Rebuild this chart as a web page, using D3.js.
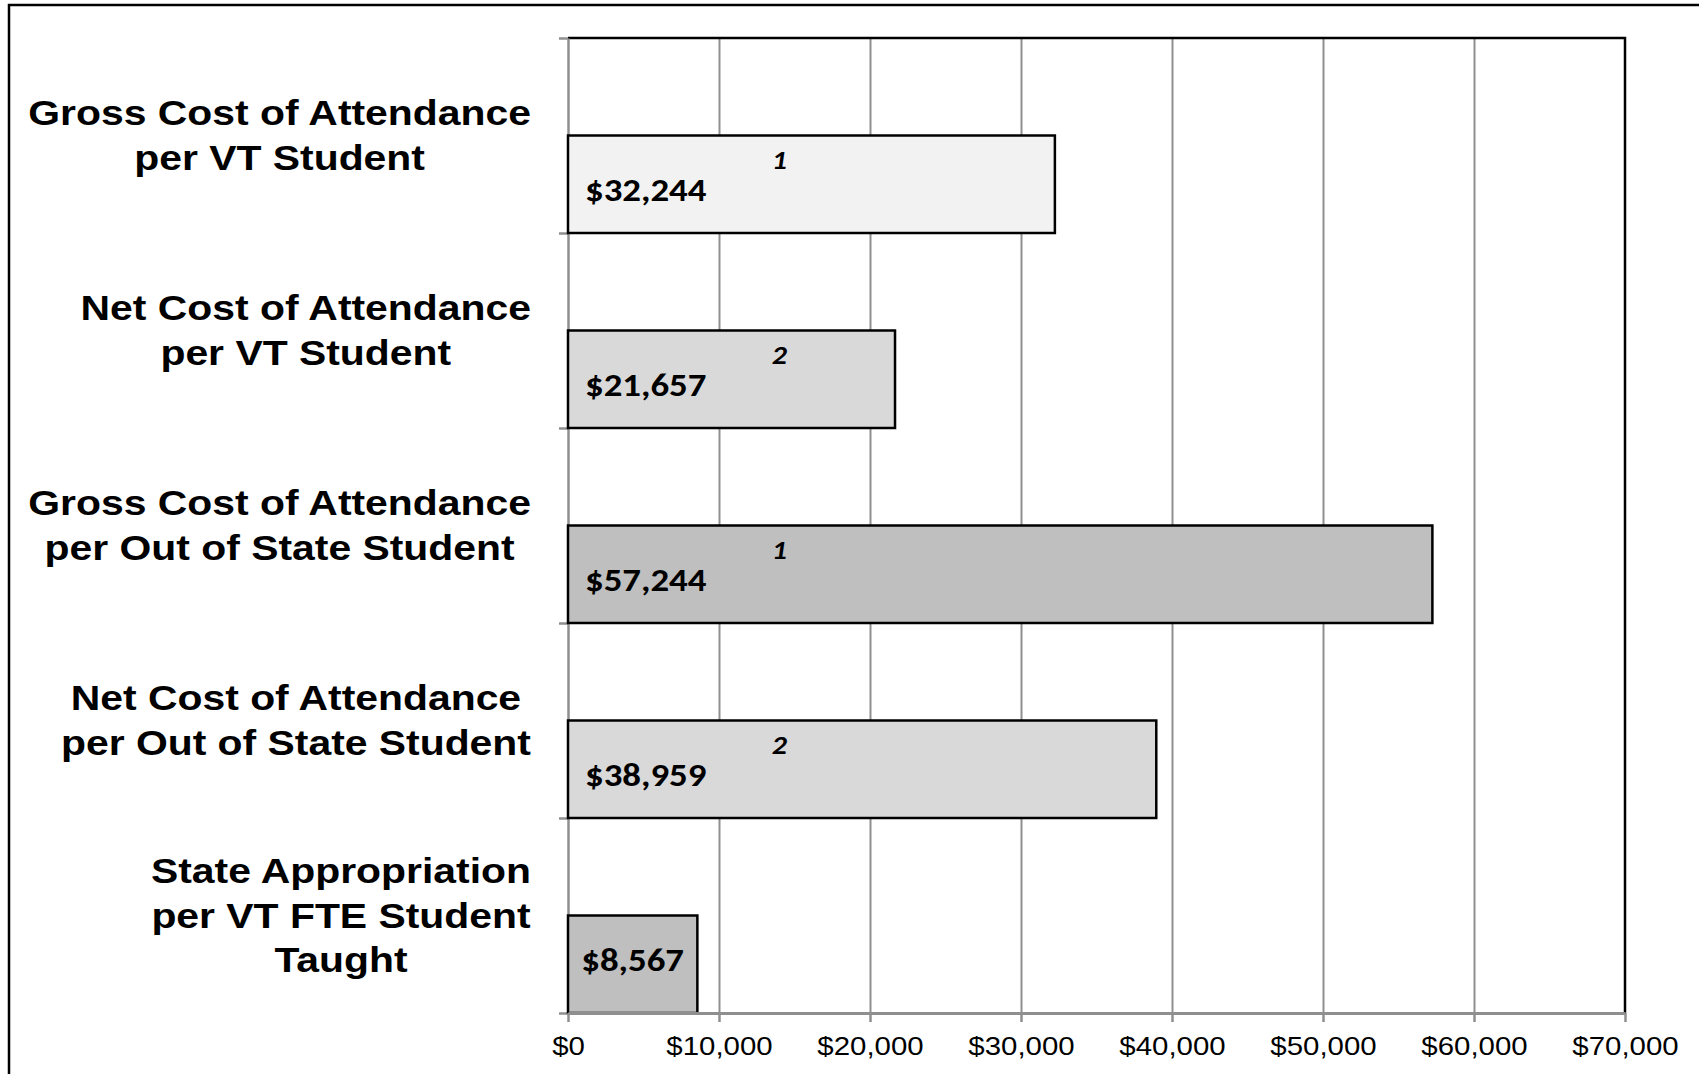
<!DOCTYPE html>
<html>
<head>
<meta charset="utf-8">
<script src="https://cdn.jsdelivr.net/npm/d3@7"></script>
<style>
  html, body { margin: 0; padding: 0; background: #fff; overflow: hidden; }
</style>
</head>
<body>
<svg id="chart" width="1699" height="1074"></svg>
<script>
// Data
const categories = [
  ["Gross Cost of Attendance", "per VT Student"],
  ["Net Cost of Attendance", "per VT Student"],
  ["Gross Cost of Attendance", "per Out of State Student"],
  ["Net Cost of Attendance", "per Out of State Student"],
  ["State Appropriation", "per VT FTE Student", "Taught"]
];
const values = [32244, 21657, 57244, 38959, 8567];
const notes = ["1", "2", "1", "2", ""];
const tickValues = [0, 10000, 20000, 30000, 40000, 50000, 60000, 70000];

// Styles
const barFills = ["#f2f2f2", "#d9d9d9", "#bfbfbf", "#d9d9d9", "#bfbfbf"];
const stretch = 1.15; // the source picture is a bit wide
const catStretch = 1.185;

const svg = d3.select("#chart");
const plotLeft = 568, plotRight = 1625, plotTop = 38, plotBottom = 1013;

// Outer frame
svg.append("rect")
  .attr("x", 9).attr("y", 5)
  .attr("width", 1800).attr("height", 1200)
  .attr("fill", "none").attr("stroke", "#000").attr("stroke-width", 2.5);

let x = d3.scaleLinear().domain([0, 70000]).range([plotLeft, plotRight]);
let y = d3.scaleBand().domain(d3.range(values.length)).range([plotTop, plotBottom]);
let yEdge = d3.scaleLinear().domain([0, values.length]).range([plotTop, plotBottom]);

// Gridlines
svg.append("g")
  .attr("transform", "translate(0," + plotBottom + ")")
  .call(d3.axisBottom(x).tickValues(tickValues.slice(1, -1)).tickSize(-(plotBottom - plotTop)).tickFormat(""))
  .call(g => g.select(".domain").remove())
  .selectAll("line").attr("stroke", "#8f8f8f").attr("stroke-width", 2);

// Plot border top and right
svg.append("path")
  .attr("d", "M" + plotLeft + "," + plotTop + "H" + plotRight + "V" + plotBottom)
  .attr("fill", "none").attr("stroke", "#000").attr("stroke-width", 2.5);

// Left axis with ticks at band edges
svg.append("g")
  .attr("transform", "translate(" + plotLeft + ",0)")
  .call(d3.axisLeft(yEdge).ticks(values.length).tickSize(9).tickSizeOuter(0).tickFormat(""))
  .call(g => g.select(".domain").attr("stroke", "#8f8f8f").attr("stroke-width", 2.5))
  .selectAll("line").attr("stroke", "#8f8f8f").attr("stroke-width", 2.5);

// Bars (lower half of each band)
svg.append("g").selectAll("rect")
  .data(values)
  .enter()
  .append("rect")
  .attr("x", x(0))
  .attr("y", function (d, i) {return y(i) + y.bandwidth() / 2})
  .attr("width", function (d) {return x(d) - x(0)})
  .attr("height", y.bandwidth() / 2)
  .attr("fill", function (d, i) {return barFills[i]})
  .attr("stroke", "#000")
  .attr("stroke-width", 2.5);

// Bottom axis
let xAxis = svg.append("g")
  .attr("transform", "translate(0," + plotBottom + ")")
  .call(d3.axisBottom(x).tickValues(tickValues).tickSize(9).tickSizeOuter(0)
    .tickFormat(function (d) {return "$" + d3.format(",")(d)}));
xAxis.select(".domain").attr("stroke", "#8f8f8f").attr("stroke-width", 3);
xAxis.selectAll("line").attr("stroke", "#8f8f8f").attr("stroke-width", 2.5);
xAxis.selectAll("text")
  .attr("y", 42).attr("dy", 0)
  .attr("transform", "scale(" + stretch + ",1)")
  .attr("font-family", "'Liberation Sans', Arial, sans-serif")
  .attr("font-size", 25.6)
  .attr("fill", "#000");

// Category labels
const lineGap = 44.4;
categories.forEach(function (lines, i) {
  let cy = y(i) + y.bandwidth() / 2;
  let g = svg.append("g");
  let texts = g.selectAll("text")
    .data(lines)
    .enter()
    .append("text")
    .attr("text-anchor", "middle")
    .attr("font-family", "'Liberation Sans', Arial, sans-serif")
    .attr("font-weight", "bold")
    .attr("font-size", 34.5)
    .attr("fill", "#000")
    .text(function (d) {return d});
  let maxW = 0;
  texts.each(function () {maxW = Math.max(maxW, this.getComputedTextLength() * catStretch)});
  let cx = 531 - maxW / 2;
  texts.attr("transform", function (d, j) {
    let by = cy + (j - (lines.length - 1) / 2) * lineGap + 12;
    return "translate(" + cx + "," + by + ") scale(" + catStretch + ",1)";
  });
});

// Value labels
const valueFont = "Carlito, Calibri, 'Liberation Sans Narrow', 'DejaVu Sans Condensed', sans-serif";
values.forEach(function (v, i) {
  let cy = y(i) + y.bandwidth() * 0.75;
  let t = svg.append("text")
    .attr("font-family", valueFont)
    .attr("font-weight", "bold")
    .attr("font-size", 32)
    .attr("fill", "#000")
    .text("$" + d3.format(",")(v));
  let w = t.node().getComputedTextLength() * stretch;
  let bw = x(v) - x(0);
  let lx = (bw < w + 34) ? x(0) + (bw - w) / 2 : x(0) + 17;
  let by = notes[i] ? cy + 17 : cy + 7;
  t.attr("transform", "translate(" + lx + "," + by + ") scale(" + stretch + ",1)");
  if (notes[i]) {
    svg.append("text")
      .attr("font-family", valueFont)
      .attr("font-weight", "bold")
      .attr("font-style", "italic")
      .attr("font-size", 26)
      .attr("fill", "#000")
      .attr("text-anchor", "middle")
      .attr("transform", "translate(" + x(14000) + "," + (cy - 15) + ") scale(" + stretch + ",1)")
      .text(notes[i]);
  }
});
</script>
</body>
</html>
